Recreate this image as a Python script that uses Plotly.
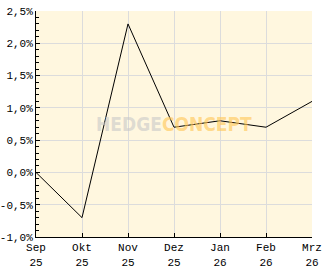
import plotly.graph_objects as go

months = ["Sep 25", "Okt 25", "Nov 25", "Dez 25", "Jan 26", "Feb 26", "Mrz 26"]
tick_labels = ["Sep<br>25", "Okt<br>25", "Nov<br>25", "Dez<br>25", "Jan<br>26", "Feb<br>26", "Mrz<br>26"]
values = [0.0, -0.7, 2.3, 0.7, 0.8, 0.7, 1.1]
y_ticks = [-1.0, -0.5, 0.0, 0.5, 1.0, 1.5, 2.0, 2.5]
y_tick_labels = ["-1,0%", "-0,5%", "0,0%", "0,5%", "1,0%", "1,5%", "2,0%", "2,5%"]

fig = go.Figure()
fig.add_trace(go.Scatter(x=list(range(len(months))), y=values, mode="lines",
                         line=dict(color="black", width=1), hoverinfo="skip"))

font = dict(family="Liberation Mono", size=11, color="black")

fig.update_layout(
    width=332, height=269,
    margin=dict(l=36, r=20, t=11, b=32),
    paper_bgcolor="white",
    plot_bgcolor="#FFF7DF",
    showlegend=False,
    font=font,
    xaxis=dict(
        range=[0, len(months) - 1],
        tickmode="array", tickvals=list(range(len(months))), ticktext=tick_labels,
        showgrid=True, gridcolor="#DCDCDC", gridwidth=1,
        showline=True, linecolor="black", linewidth=1,
        ticks="inside", ticklen=4, tickcolor="black",
        zeroline=False, tickfont=font, automargin=False,
    ),
    yaxis=dict(
        range=[-1.0, 2.5],
        tickmode="array", tickvals=y_ticks, ticktext=y_tick_labels,
        showgrid=True, gridcolor="#DCDCDC", gridwidth=1,
        showline=True, linecolor="black", linewidth=1,
        ticks="inside", ticklen=4, tickcolor="black",
        zeroline=False, tickfont=font, automargin=False,
        minor=dict(dtick=0.1, ticks="inside", ticklen=3, tickcolor="black", showgrid=False),
    ),
    annotations=[dict(
        x=0.5, y=0.5, xref="paper", yref="paper", xanchor="center", yanchor="middle",
        text="<b><span style='color:rgba(200,200,200,0.6)'>HEDGE</span><span style='color:rgba(255,200,90,0.65)'>CONCEPT</span></b>",
        showarrow=False,
        font=dict(family="DejaVu Sans Condensed", size=19),
    )],
)

fig.write_html("out.html")
